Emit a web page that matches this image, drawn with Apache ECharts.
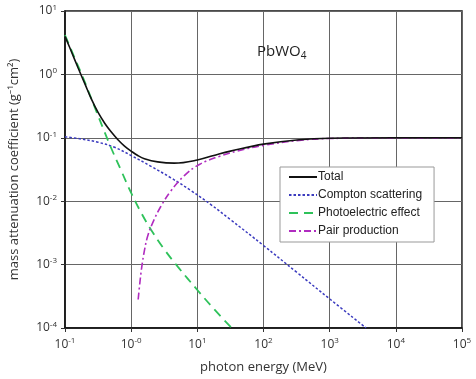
<!DOCTYPE html>
<html>
<head>
<meta charset="utf-8">
<script src="https://cdn.jsdelivr.net/npm/echarts@6/dist/echarts.min.js"></script>
<style>
html,body{margin:0;padding:0;background:#fff;}
#chart{width:476px;height:379px;}
</style>
</head>
<body>
<div id="chart"></div>
<script>
// ---- data (photon energy in MeV, mass attenuation coefficient in g^-1 cm^2) ----
var seriesNames = ['Total', 'Compton scattering', 'Photoelectric effect', 'Pair production'];

var totalE  = [0.1, 0.126, 0.158, 0.2, 0.251, 0.316, 0.398, 0.501, 0.631, 0.794, 1, 1.259, 1.585, 2.512, 4.467, 10, 21.88, 31.62, 100, 346.7, 1000, 10000, 100000];
var totalMu = [3.98, 2.24, 1.26, 0.708, 0.407, 0.251, 0.170, 0.123, 0.0933, 0.0741, 0.0617, 0.0525, 0.0468, 0.0417, 0.0398, 0.0447, 0.0562, 0.0617, 0.0794, 0.0933, 0.0985, 0.1, 0.1];

var comptonE  = [0.1, 0.178, 0.316, 0.562, 1, 1.995, 3.981, 7.943, 15.85, 31.62, 100, 316.2, 1000, 3548];
var comptonMu = [0.1035, 0.0955, 0.0851, 0.0708, 0.0525, 0.0355, 0.0234, 0.0148, 0.00891, 0.00513, 0.00200, 0.000759, 0.000288, 0.0001];

var photoE  = [0.1, 0.141, 0.182, 0.282, 0.380, 0.479, 0.708, 1, 1.413, 1.995, 3.162, 5.129, 10, 17.78, 33.11];
var photoMu = [4.17, 1.78, 0.955, 0.302, 0.138, 0.0759, 0.0302, 0.0135, 0.0066, 0.00355, 0.00174, 0.000912, 0.000398, 0.000200, 0.0001];

var pairE  = [1.276, 1.349, 1.445, 1.585, 1.778, 2.138, 2.818, 3.981, 6.310, 10.72, 21.88, 39.81, 100, 346.7, 1000, 10000, 100000];
var pairMu = [0.000282, 0.000501, 0.000912, 0.00166, 0.00282, 0.00468, 0.00832, 0.0145, 0.0251, 0.0380, 0.0513, 0.0617, 0.0759, 0.0912, 0.0975, 0.0995, 0.0995];

var xTickExp = ['-1', '-0', '1', '2', '3', '4', '5'];
var yTickExp = ['-4', '-3', '-2', '-1', '0', '1'];

function pairs(xs, ys) { return xs.map(function (x, i) { return [x, ys[i]]; }); }

var chart = echarts.init(document.getElementById('chart'), null, {renderer: 'canvas'});
var FONT = '"Open Sans", "Noto Sans", sans-serif';
var LEGFONT = '"Liberation Sans Narrow", "Liberation Sans", Arial, sans-serif';

var labelRich = {
  b: {fontSize: 12, color: '#333', fontFamily: FONT},
  s: {fontSize: 8, color: '#333', fontFamily: FONT, verticalAlign: 'top', padding: [0, 0, 7, 0]}
};

function lineSeries(idx, xs, ys, color, width, dash, z) {
  return {
    name: seriesNames[idx], type: 'line', showSymbol: false, symbol: 'none', smooth: 0.4,
    lineStyle: {color: color, width: width, type: dash}, itemStyle: {color: color},
    data: pairs(xs, ys), z: z
  };
}

var option = {
  animation: false,
  backgroundColor: '#fff',
  title: {
    text: '{a|PbWO}{b|4}',
    left: 252, top: 37,
    textStyle: {
      fontWeight: 'normal',
      rich: {
        a: {fontSize: 15, color: '#222', fontFamily: FONT, fontWeight: 'normal'},
        b: {fontSize: 10, color: '#222', fontFamily: FONT, fontWeight: 'normal', padding: [9, 0, 0, 0]}
      }
    }
  },
  grid: {left: 65, right: 14, top: 11, bottom: 47, show: true, borderColor: '#111', borderWidth: 1.5, containLabel: false},
  legend: {
    orient: 'vertical',
    left: 280, top: 167,
    backgroundColor: '#fff',
    borderColor: '#999', borderWidth: 1,
    padding: [4, 12, 5, 8],
    itemWidth: 28, itemHeight: 12, itemGap: 6,
    itemStyle: {opacity: 0},
    textStyle: {fontSize: 12, color: '#222', fontFamily: LEGFONT, padding: [0, 0, 0, -4]},
    data: seriesNames
  },
  xAxis: {
    type: 'log', logBase: 10, min: 0.1, max: 100000,
    name: 'photon energy (MeV)', nameLocation: 'middle', nameGap: 33,
    nameTextStyle: {fontSize: 13, color: '#333', fontFamily: FONT},
    axisLine: {show: true, lineStyle: {color: '#111', width: 1.5}},
    axisTick: {show: true, length: 4, lineStyle: {color: '#333'}},
    axisLabel: {
      margin: 9,
      formatter: function (v) {
        var i = Math.round(Math.log10(v)) + 1;
        return '{b|10}{s|' + xTickExp[i] + '}';
      },
      rich: labelRich
    },
    splitLine: {show: true, lineStyle: {color: '#666', width: 1}},
    minorTick: {show: false}, minorSplitLine: {show: false}
  },
  yAxis: {
    type: 'log', logBase: 10, min: 0.0001, max: 10,
    name: 'mass attenuation coefficient (g\u207B\u00B9cm\u00B2)', nameLocation: 'middle', nameGap: 44,
    nameTextStyle: {fontSize: 13, color: '#333', fontFamily: FONT},
    axisLine: {show: true, lineStyle: {color: '#111', width: 1.5}},
    axisTick: {show: true, length: 4, lineStyle: {color: '#333'}},
    axisLabel: {
      margin: 8,
      formatter: function (v) {
        var i = Math.round(Math.log10(v)) + 4;
        return '{b|10}{s|' + yTickExp[i] + '}';
      },
      rich: labelRich
    },
    splitLine: {show: true, lineStyle: {color: '#666', width: 1}},
    minorTick: {show: false}, minorSplitLine: {show: false}
  },
  series: [
    lineSeries(0, totalE, totalMu, '#111', 1.6, 'solid', 5),
    lineSeries(1, comptonE, comptonMu, '#3b3bbf', 1.5, [2.5, 2], 3),
    lineSeries(2, photoE, photoMu, '#2ec25a', 1.8, [9, 6], 3),
    lineSeries(3, pairE, pairMu, '#b02cc0', 1.6, [7, 3, 2, 3], 4)
  ]
};
chart.setOption(option);
</script>
</body>
</html>
